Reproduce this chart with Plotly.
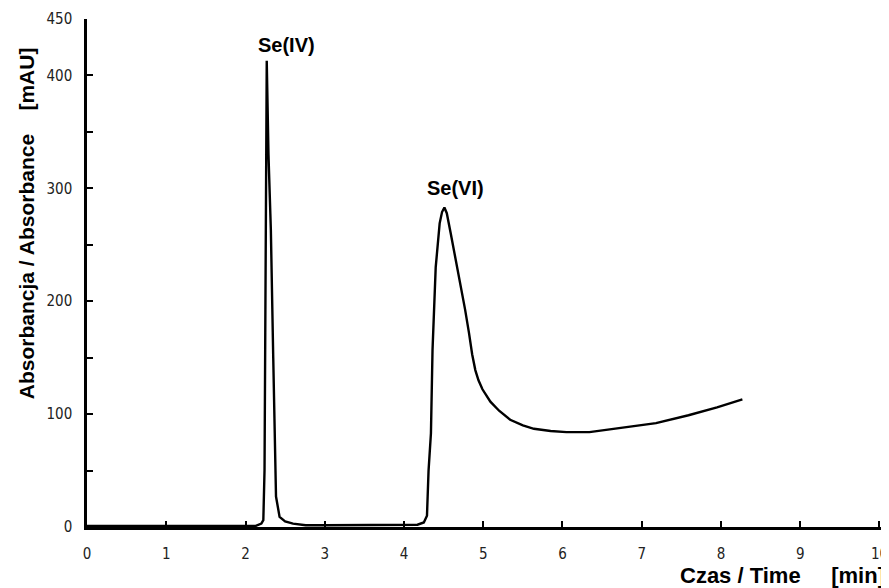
import plotly.graph_objects as go

# Chromatogram data (time in min, absorbance in mAU)
time_min = [0.0, 0.5, 1.0, 1.5, 2.0, 2.13, 2.2, 2.225, 2.24, 2.255, 2.268, 2.29, 2.32,
            2.35, 2.375, 2.385, 2.43, 2.5, 2.6, 2.76, 3.0, 3.5, 4.0, 4.17, 4.25, 4.29,
            4.31, 4.34, 4.36, 4.40, 4.45, 4.48, 4.51, 4.54, 4.59, 4.65, 4.71, 4.77,
            4.82, 4.86, 4.90, 4.94, 4.99, 5.04, 5.09, 5.2, 5.34, 5.5, 5.64, 5.85,
            6.05, 6.34, 6.77, 7.18, 7.59, 7.95, 8.27]
absorbance = [1, 1, 1, 1, 1, 1, 3, 6, 50, 250, 413, 330, 263,
              150, 60, 27, 9, 5, 3, 1.5, 1.5, 1.5, 1.5, 2, 4, 10,
              50, 83, 157, 230, 269, 279, 283, 278, 260, 238, 216, 193,
              172, 153, 139, 130, 122, 116, 111, 103, 95, 90, 87, 85,
              84, 84, 88, 92, 99, 106, 113]

peak_names = ["Se(IV)", "Se(VI)"]
peak_times = [2.268, 4.51]
peak_heights = [413, 283]

y_tickvals = [0, 50, 100, 150, 200, 250, 300, 350, 400, 450]
y_ticktext = ["0", "", "100", "", "200", "", "300", "", "400", "450"]
x_tickvals = [0, 1, 2, 3, 4, 5, 6, 7, 8, 9, 10]
x_ticktext = ["0", "1", "2", "3", "4", "5", "6", "7", "8", "9", "10"]

fig = go.Figure()
fig.add_trace(go.Scatter(x=time_min, y=absorbance, mode="lines",
                         line=dict(color="black", width=2.4), showlegend=False))

label_xshift = [20, 11]
label_yshift = [3, 7]
for name, t, h, dx, dy in zip(peak_names, peak_times, peak_heights, label_xshift, label_yshift):
    fig.add_annotation(x=t, y=h, text="<b>%s</b>" % name, showarrow=False,
                       xanchor="center", yanchor="bottom", xshift=dx, yshift=dy,
                       font=dict(family="Liberation Sans, Arial", size=20, color="black"))

gap = "\u00a0" * 4
fig.add_annotation(xref="paper", yref="paper", x=-0.0761, y=0.598,
                   text="<b>Absorbancja / Absorbance" + gap + "[mAU]</b>",
                   textangle=-90, showarrow=False, xanchor="center", yanchor="middle",
                   font=dict(family="Liberation Sans, Arial", size=21, color="black"))
fig.add_annotation(xref="paper", yref="paper", x=0.998, y=-0.0945,
                   text="<b>Czas / Time" + "\u00a0" * 5 + "[min]</b>",
                   showarrow=False, xanchor="right", yanchor="middle",
                   font=dict(family="Liberation Sans, Arial", size=22, color="black"))

# the page body adds an 8 px offset, so the figure is 8 px smaller and margins shifted
fig.update_layout(
    width=881, height=580,
    margin=dict(l=79, r=0, t=11, b=61, autoexpand=False),
    plot_bgcolor="white", paper_bgcolor="white",
    font=dict(family="Liberation Sans Narrow, DejaVu Sans Condensed, Liberation Sans",
              size=15, color="#222"),
)
fig.update_xaxes(range=[0, 10.12], tickvals=x_tickvals, ticktext=x_ticktext,
                 ticks="inside", ticklen=6, tickwidth=1.5, tickcolor="black",
                 showline=True, linecolor="black", linewidth=2.5, automargin=False,
                 showgrid=False, zeroline=False, ticklabelstandoff=11,
                 ticklabeloverflow="allow")
fig.update_yaxes(range=[0, 450], tickvals=y_tickvals, ticktext=y_ticktext,
                 ticks="inside", ticklen=6, tickwidth=1.5, tickcolor="black",
                 showline=True, linecolor="black", linewidth=2.5, automargin=False,
                 showgrid=False, zeroline=False, ticklabelstandoff=9,
                 ticklabeloverflow="allow")

fig.write_html("out.html")
